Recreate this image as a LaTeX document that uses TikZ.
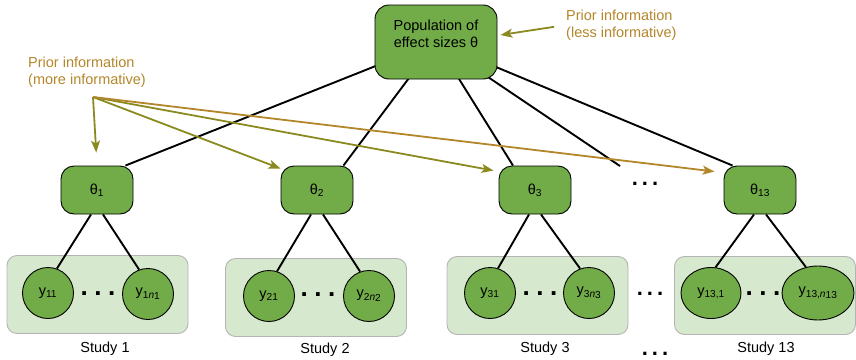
\documentclass[tikz,border=0pt]{standalone}
\usepackage{fontspec}
\setmainfont{Liberation Sans}
\usetikzlibrary{arrows.meta,shapes.geometric,backgrounds}
\definecolor{node_green}{RGB}{114,172,72}
\definecolor{study_green}{RGB}{214,232,205}
\definecolor{study_gray}{RGB}{180,180,180}
\definecolor{prior_olive}{RGB}{138,138,32}
\definecolor{prior_gold}{RGB}{180,134,42}
\tikzstyle{pn}=[rectangle,rounded corners=14pt,fill=node_green,draw=black,
  line width=0.9pt,minimum width=122pt,minimum height=74pt]
\tikzstyle{tn}=[rectangle,rounded corners=13pt,fill=node_green,draw=black,
  line width=0.9pt,minimum width=72pt,minimum height=48pt]
\tikzstyle{yn}=[circle,fill=node_green,draw=black,line width=0.9pt,
  inner sep=0pt,minimum size=51pt]
\tikzstyle{ye}=[ellipse,fill=node_green,draw=black,line width=0.9pt,
  inner sep=0pt,minimum width=60pt,minimum height=51pt]
\tikzstyle{sb}=[rectangle,rounded corners=10pt,fill=study_green,draw=study_gray,
  line width=0.9pt,minimum width=181pt,minimum height=78pt]
\tikzstyle{priortext}=[text=prior_gold,align=left,anchor=west,inner sep=0pt]
\tikzstyle{ln}=[line width=1.9pt]
\tikzstyle{pa}=[line width=1.8pt,draw=prior_olive,
  -{Stealth[length=12pt,width=9pt,inset=3pt]}]
\tikzstyle{dt}=[anchor=base,inner sep=0pt,font=\fontsize{26}{26}\selectfont\bfseries]
\newcommand{\sqdots}[1]{.\hspace{#1}.\hspace{#1}.}
\newcommand{\lowidx}[1]{\raisebox{-1.6pt}{#1}}

\begin{document}
\begin{tikzpicture}[x=1pt,y=-1pt,every node/.style={font=\fontsize{14.5}{17.5}\selectfont}]
    \useasboundingbox (0,0) rectangle (856,359);
    % population and prior information
    \node [style=pn, label={[align=center,yshift=8pt]center:Population of\\effect sizes θ}] (pop) at (436,42) {};
    \node [style=priortext] (less) at (566,25) {Prior information\\(less informative)};
    \node [style=priortext] (more) at (28,72) {Prior information\\(more informative)};
    \coordinate (hub) at (93,97);
    % study effects
    \node [style=tn] (t1) at (97,190) {θ\textsubscript{1}};
    \node [style=tn] (t2) at (317,190) {θ\textsubscript{2}};
    \node [style=tn] (t3) at (535,190) {θ\textsubscript{3}};
    \node [style=tn] (t13) at (760,190) {θ\textsubscript{13}};
    \coordinate (tdots) at (620,166);
    \node [style=dt, font=\fontsize{22}{22}\selectfont\bfseries] (tdt) at (645,185) {\sqdots{4pt}};
    % studies
    \node [style=sb] (s1) at (97.5,294.5) {};
    \node [style=sb] (s2) at (316,297.5) {};
    \node [style=sb] (s3) at (537.5,295.5) {};
    \node [style=sb] (s13) at (765,295.5) {};
    \node [style=yn] (y11) at (48,293) {y\textsubscript{11}};
    \node [style=yn] (y1n) at (148,294) {y\textsubscript{1\textit{n}\lowidx{1}}};
    \node [style=yn] (y21) at (269,296) {y\textsubscript{21}};
    \node [style=yn] (y2n) at (369,296) {y\textsubscript{2\textit{n}\lowidx{2}}};
    \node [style=yn] (y31) at (490,293) {y\textsubscript{31}};
    \node [style=yn] (y3n) at (589,293) {y\textsubscript{3\textit{n}\lowidx{3}}};
    \node [style=ye] (y131) at (711,293) {y\textsubscript{13,1}};
    \node [style=ye, minimum width=72pt, minimum height=54pt] (y13n) at (818,293) {y\textsubscript{13,\textit{n}\lowidx{13}}};
    \node [style=dt] (d1) at (98,295) {\sqdots{6.5pt}};
    \node [style=dt] (d2) at (318,296) {\sqdots{6.5pt}};
    \node [style=dt] (d3) at (540,295) {\sqdots{6.5pt}};
    \node [style=dt] (d13) at (763,295) {\sqdots{6.5pt}};
    \node [style=dt, font=\fontsize{22}{22}\selectfont\bfseries] (dmid) at (650,295) {\sqdots{4pt}};
    \node (l1) at (105,349) {Study 1};
    \node (l2) at (325,350) {Study 2};
    \node (l3) at (545,349) {Study 3};
    \node (l13) at (766,349) {Study 13};
    \node [style=dt, font=\fontsize{22}{22}\selectfont\bfseries] (ldots) at (655,355) {\sqdots{4pt}};
    % edges
    \begin{scope}[on background layer]
      \draw [style=ln] (pop.center) to ([xshift=-8pt]t1.north east);
      \draw [style=ln] (pop.center) to ([xshift=-10pt]t2.north east);
      \draw [style=ln] (pop.center) to ([xshift=-22pt]t3.north);
      \draw [style=ln] (pop.center) to (tdots);
      \draw [style=ln] (pop.center) to ([xshift=9pt]t13.north west);
    \end{scope}
    \draw [style=ln] ([xshift=-6pt]t1.south) to (y11.70);
    \draw [style=ln] ([xshift=6pt]t1.south) to (y1n.110);
    \draw [style=ln] ([xshift=-6pt]t2.south) to (y21.72);
    \draw [style=ln] ([xshift=6pt]t2.south) to (y2n.110);
    \draw [style=ln] ([xshift=-6pt]t3.south) to (y31.72);
    \draw [style=ln] ([xshift=6pt]t3.south) to (y3n.110);
    \draw [style=ln] ([xshift=-6pt]t13.south) to (y131.80);
    \draw [style=ln] ([xshift=6pt]t13.south) to (y13n.115);
    % prior arrows
    \draw [style=pa, shorten <=12pt] (less.west) to ([shift={(3pt,7pt)}]pop.east);
    \draw [style=pa, shorten >=13pt] (hub) to (t1.north);
    \draw [style=pa] (hub) to ([yshift=-3pt]t2.north west);
    \draw [style=pa] (hub) to ([shift={(-5pt,-5pt)}]t3.north west);
    \draw [style=pa, draw=prior_gold] (hub) to ([shift={(-9pt,-6pt)}]t13.north west);
\end{tikzpicture}
\end{document}
